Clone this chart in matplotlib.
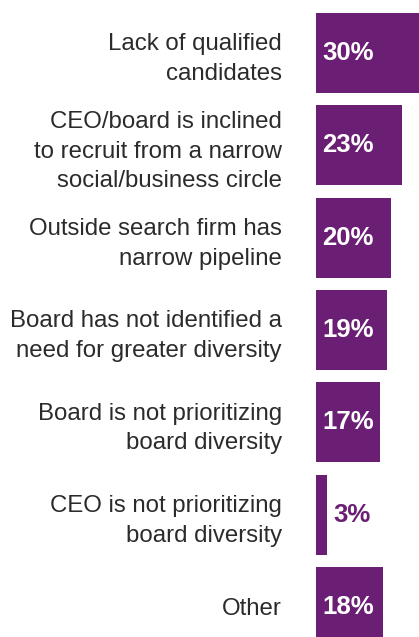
import matplotlib.pyplot as plt
from matplotlib.transforms import offset_copy

# Reasons cited for lack of board diversity
reasons = [
    "Lack of qualified\ncandidates",
    "CEO/board is inclined\nto recruit from a narrow\nsocial/business circle",
    "Outside search firm has\nnarrow pipeline",
    "Board has not identified a\nneed for greater diversity",
    "Board is not prioritizing\nboard diversity",
    "CEO is not prioritizing\nboard diversity",
    "Other",
]
shares = [30, 23, 20, 19, 17, 3, 18]

purple = "#6b1f74"
W, H = 419, 637

fig = plt.figure(figsize=(W / 100, H / 100), dpi=100)
# axes run from the bar baseline to the right edge of the figure
ax = fig.add_axes([316 / W, 0, 1 - 316 / W, 1])

pos = list(range(len(shares)))
ax.barh(pos, shares, height=0.867, color=purple)
ax.set_xlim(0, 103 / 3.74)
ax.set_ylim(6.325, -0.574)

ax.set_yticks(pos)
ax.set_yticklabels(reasons, fontsize=17.3, family="Liberation Sans", color="#2b2b2b")
plt.setp(ax.get_yticklabels(), linespacing=1.44)
ax.tick_params(axis="y", length=0, pad=24.5)
ax.set_xticks([])
for s in ax.spines.values():
    s.set_visible(False)

# value labels: white inside the bar, purple beside a short bar
for y, v in zip(pos, shares):
    tr = offset_copy(ax.transData, fig=fig, x=4.5, y=0, units="points")
    inside = v >= 10
    ax.text(0 if inside else v, y, f"{v}%", transform=tr, ha="left", va="center",
            color="white" if inside else purple, fontsize=18.5, fontweight="bold",
            family="Liberation Sans")

fig.savefig("out.png", dpi=100)
